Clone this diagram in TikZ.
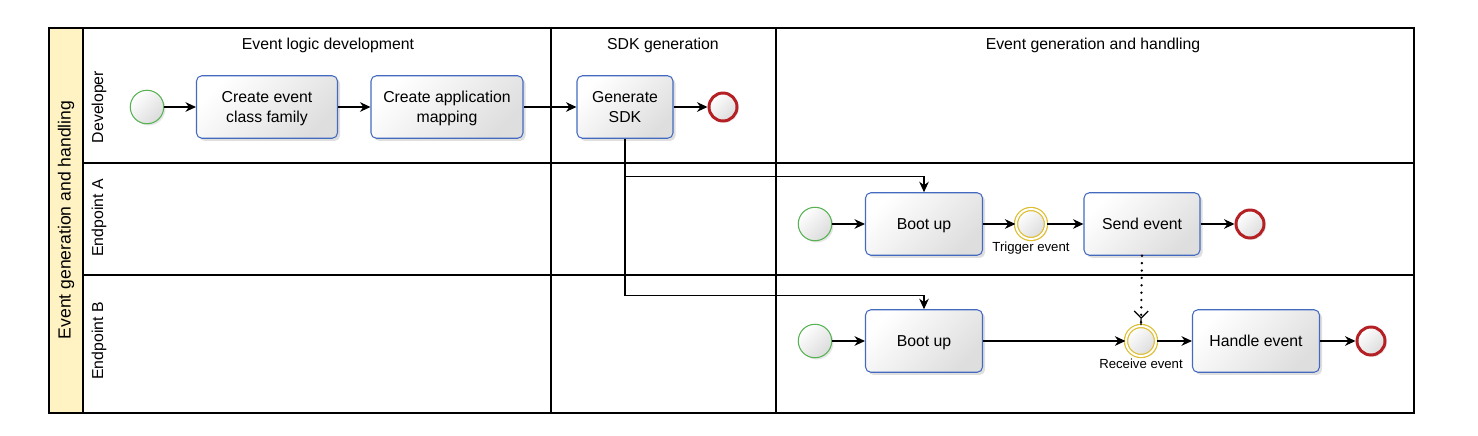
\documentclass[tikz,border=0pt]{standalone}
\usepackage{fontspec}
\setmainfont{Liberation Sans}
\usetikzlibrary{
  arrows.meta,
  positioning,
  shadows
}
\definecolor{taskblue}{RGB}{68,106,192}
\definecolor{startgreen}{RGB}{86,178,82}
\definecolor{endred}{RGB}{180,32,36}
\definecolor{midyellow}{RGB}{222,190,50}
\definecolor{poolyellow}{RGB}{255,243,196}

\begin{document}
\begin{tikzpicture}[
  x=0.02cm, y=-0.02cm,
  every node/.style={font=\fontsize{9}{11}\selectfont},
  task/.style={draw=taskblue, semithick, rounded corners=3pt, minimum height=1.25cm,
               align=center, text height=8pt, text depth=2pt, top color=white,
               bottom color=black!13, shading angle=45,
               drop shadow={opacity=0.25, shadow xshift=1.5pt, shadow yshift=-1.5pt}},
  twoline/.style={text height=19.3pt, text depth=2pt},
  event/.style={circle, inner sep=0pt, top color=white, bottom color=black!14,
                shading angle=45,
                drop shadow={opacity=0.2, shadow xshift=1pt, shadow yshift=-1pt}},
  startev/.style={event, draw=startgreen, semithick, minimum size=0.67cm},
  endev/.style={event, draw=endred, line width=1.7pt, minimum size=0.56cm},
  midev/.style={event, draw=midyellow, line width=0.7pt, double=white,
                double distance=1.1pt, minimum size=0.6cm},
  evlabel/.style={font=\fontsize{7.5}{9}\selectfont, inner sep=1pt},
  flow/.style={->, line width=0.65pt},
  >={Stealth[length=6pt,width=5.5pt]}
]

\useasboundingbox (0,0) rectangle (1478,436);

% pool and lanes
\draw[line width=0.6pt, fill=poolyellow] (49,28) rectangle (83,413);
\draw[line width=0.6pt] (83,28) rectangle (1414,413);
\draw[line width=0.6pt] (83,163) -- (1414,163);
\draw[line width=0.6pt] (83,275) -- (1414,275);
\draw[line width=0.6pt] (551,28) -- (551,413);
\draw[line width=0.6pt] (776,28) -- (776,413);

\node[rotate=90, font=\fontsize{10}{12}\selectfont] (pool) at (66,220)
  {Event generation and handling};
\node[rotate=90] (ldev) at (99,107) {Developer};
\node[rotate=90] (lepa) at (99,218) {Endpoint A};
\node[rotate=90] (lepb) at (99,341) {Endpoint B};

\node (phlogic) at (328,45) {Event logic development};
\node (phsdk) at (663,45) {SDK generation};
\node (phrun) at (1093,45) {Event generation and handling};

% developer lane
\node[startev] (devstart) at (147,107) {};
\node[task, twoline, minimum width=2.82cm] (family) at (267,107) {Create event\\class family};
\node[task, twoline, minimum width=3.04cm] (mapping) at (447,107) {Create application\\mapping};
\node[task, twoline, minimum width=1.92cm] (sdk) at (625,107) {Generate\\SDK};
\node[endev] (devend) at (723,107) {};

% endpoint A
\node[startev] (astart) at (815,224) {};
\node[task, minimum width=2.34cm] (bootA) at (924,224) {Boot up};
\node[midev, label={[evlabel]below:Trigger event}] (trigger) at (1031,224) {};
\node[task, minimum width=2.32cm] (send) at (1142,224) {Send event};
\node[endev] (aend) at (1250,224) {};

% endpoint B
\node[startev] (bstart) at (815,341) {};
\node[task, minimum width=2.34cm] (bootB) at (924,341) {Boot up};
\node[midev, label={[evlabel]below:Receive event}] (receive) at (1141,341) {};
\node[task, minimum width=2.54cm] (handle) at (1256,341) {Handle event};
\node[endev] (bend) at (1371,341) {};

\draw[flow] (devstart) -- (family);
\draw[flow] (family) -- (mapping);
\draw[flow] (mapping) -- (sdk);
\draw[flow] (sdk) -- (devend);

\draw[flow] (sdk.south) -- ++(0,38) -| (bootA.north);
\draw[flow] (sdk.south) -- ++(0,157) -| (bootB.north);

\draw[flow] (astart) -- (bootA);
\draw[flow] (bootA) -- (trigger);
\draw[flow] (trigger) -- (send);
\draw[flow] (send) -- (aend);

\draw[flow] (bstart) -- (bootB);
\draw[flow] (bootB) -- (receive);
\draw[flow] (receive) -- (handle);
\draw[flow] (handle) -- (bend);

% message
\draw[line width=1.5pt, line cap=round, dash pattern=on 0pt off 4.2pt,
      -{Straight Barb[length=4pt,width=8pt,line width=0.7pt]Straight Barb[length=3pt,width=0.05pt,line width=0.7pt,round]}]
  (send.south) -- (receive.north);

\end{tikzpicture}
\end{document}
